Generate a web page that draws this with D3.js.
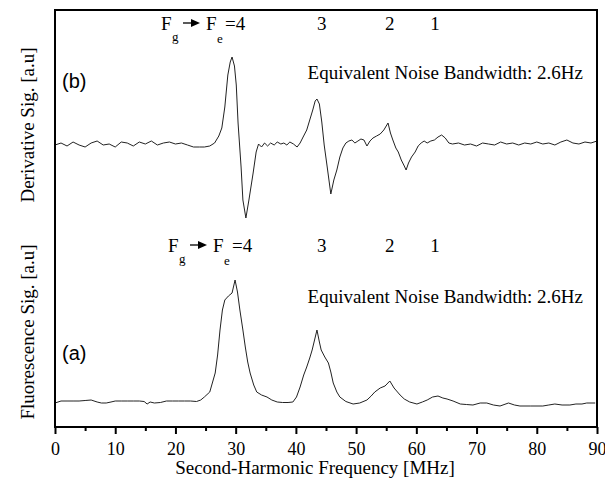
<!DOCTYPE html>
<html><head><meta charset="utf-8">
<script src="https://cdn.jsdelivr.net/npm/d3@7"></script>
<style>body{margin:0;background:#fff}</style>
</head><body><svg id="c" width="605" height="478"></svg>
<script>
// ---- data ----
const derivX=[0,1,2,3,4,5,6,7,8,9,10,11,12,13,14,15,16,17,18,19,20,21,22,23,24,24.8,25.7,26.5,27.2,27.7,28.2,28.7,29.1,29.4,29.8,30.1,30.4,30.9,31.2,31.7,32.2,32.9,33.4,33.8,34.3,34.8,35.3,35.8,36.4,36.9,37.5,38.0,38.5,39.0,39.6,40.2,40.7,41.2,41.8,42.3,42.8,43.2,43.5,43.9,44.3,44.7,45.2,45.8,46.3,46.8,47.3,47.8,48.3,48.8,49.3,49.8,50.3,50.8,51.3,51.8,52.3,52.8,53.4,54.0,54.6,55.0,55.3,55.7,56.1,56.6,57.0,57.5,58.0,58.3,58.7,59.2,59.8,60.3,60.8,61.3,61.8,62.4,63.0,63.6,64.2,64.8,65.4,66,67,68,69,70,71,72,73,74,75,76,77,78,79,80,81,82,83,84,85,86,87,88,89,90];
const derivY=[0,0.02,-0.01,0.03,0,-0.02,0.02,0.04,0,0.01,-0.02,0.03,0.02,-0.01,0.03,0.01,0.04,0,0.02,0.03,0.01,0.02,0,-0.02,-0.02,-0.02,-0.01,0.02,0.09,0.17,0.38,0.70,0.83,0.88,0.79,0.60,0.22,-0.22,-0.55,-0.73,-0.55,-0.28,-0.07,0.01,-0.02,0.02,-0.01,0.02,0,0.03,0.01,0.02,0,0.03,0.01,-0.02,0.02,0.08,0.15,0.25,0.35,0.44,0.46,0.41,0.23,0,-0.22,-0.49,-0.35,-0.25,-0.12,-0.03,0.02,0.04,0.05,0.02,0.04,0.06,0.05,-0.01,0.04,0.07,0.09,0.11,0.15,0.19,0.22,0.12,0.05,-0.03,-0.07,-0.15,-0.21,-0.25,-0.18,-0.12,-0.07,-0.01,0.02,0.04,0.02,0.04,0.05,0.08,0.10,0.07,0.02,0.01,0.02,0,0.01,-0.01,0.02,0.01,0,0.03,0.01,0.02,0,0.02,0.01,0.03,0.01,0.02,0,0.03,0.05,0.02,0.01,0.03,0.02,0.04];
const fluorX=[0,1,2,3,4,5,6,7,7.7,8.5,9.3,10,11,12,13,14,14.8,15.3,15.8,16.5,17.5,18.5,19.5,20.5,21.5,22.5,23.5,24.2,24.8,25.7,26.6,27.0,27.4,27.8,28.2,28.8,29.4,29.9,30.3,30.7,31.2,31.6,32.0,32.4,33.0,33.5,34.3,35.2,36.0,36.9,37.8,38.7,39.5,40.1,40.7,41.3,41.8,42.3,42.7,43.1,43.5,43.9,44.2,44.8,45.4,45.8,46.2,46.8,47.3,48.3,49.5,50.6,51.8,52.5,53.1,54.0,54.8,55.6,56.3,57.3,58.0,58.9,60.1,61.0,61.8,62.7,63.6,64.4,65.1,66.1,67.3,68.3,69.4,70.6,71.7,72.8,73.9,75.3,76.3,77.2,79,81,82,83,84.2,85.5,86.5,87.5,88.3,89.7];
const fluorY=[0.02,0.04,0.04,0.04,0.04,0.045,0.05,0.03,0.02,0.02,0.03,0.04,0.04,0.04,0.04,0.04,0.035,0.01,0.03,0.02,0.025,0.04,0.04,0.04,0.04,0.04,0.035,0.05,0.08,0.13,0.32,0.50,0.75,0.95,1.05,1.09,1.12,1.25,1.13,0.95,0.75,0.58,0.43,0.32,0.20,0.13,0.10,0.08,0.05,0.03,0.025,0.025,0.03,0.08,0.18,0.30,0.38,0.47,0.55,0.65,0.75,0.63,0.55,0.48,0.42,0.33,0.22,0.13,0.08,0.035,0.01,0.02,0.05,0.09,0.13,0.17,0.19,0.24,0.17,0.10,0.06,0.03,0.01,0.03,0.05,0.08,0.09,0.07,0.06,0.04,0.01,0.005,0,0.02,0.02,0,-0.01,0.02,0,-0.01,-0.01,-0.01,0,0.01,0,0,0.01,0.01,0.02,0.02];
const xMajorTicks=[0,10,20,30,40,50,60,70,80,90];
const xMinorTicks=[5,15,25,35,45,55,65,75,85];
const levelLabels=["3","2","1"];
const levelPos=[44.3,55.6,63.1];
const bandwidthText="Equivalent Noise Bandwidth: 2.6Hz";
const panelLabels=["(b)","(a)"];
const xTitle="Second-Harmonic Frequency [MHz]";
const yTitles=["Derivative Sig. [a.u]","Fluorescence Sig. [a.u]"];

// ---- drawing ----
const svg=d3.select("#c");
const serif="'Liberation Serif','Times New Roman',serif";
const sans="'Liberation Sans',Arial,sans-serif";
const L=55,R=597,T=10,B=427;
const x=d3.scaleLinear().domain([0,90]).range([L,R]);
const yB=d3.scaleLinear().domain([-1,1]).range([245,45]);
const yA=d3.scaleLinear().domain([0,1]).range([405,305]);

const line=(ys)=>d3.line().x(d=>x(d[0])).y(d=>ys(d[1]));
svg.append("path").datum(derivX.map((v,i)=>[v,derivY[i]]))
  .attr("d",line(yB)).attr("fill","none").attr("stroke","#222").attr("stroke-width",1);
svg.append("path").datum(fluorX.map((v,i)=>[v,fluorY[i]]))
  .attr("d",line(yA)).attr("fill","none").attr("stroke","#222").attr("stroke-width",1);

// axes
const gx=svg.append("g").attr("transform",`translate(0,${B})`)
  .call(d3.axisBottom(x).tickValues(xMajorTicks).tickSize(7).tickPadding(8).tickFormat(d3.format("d")));
gx.select(".domain").remove();
gx.selectAll("line").attr("stroke","#000").attr("stroke-width",2);
gx.selectAll("text").attr("font-family",serif).attr("font-size",18).attr("fill","#000");
const gm=svg.append("g").attr("transform",`translate(0,${B})`)
  .call(d3.axisBottom(x).tickValues(xMinorTicks).tickSize(4).tickFormat(""));
gm.select(".domain").remove();
gm.selectAll("line").attr("stroke","#000").attr("stroke-width",2);

svg.append("rect").attr("x",L).attr("y",T).attr("width",R-L).attr("height",B-T)
  .attr("fill","none").attr("stroke","#000").attr("stroke-width",2);

// titles
svg.append("text").attr("x",315).attr("y",474).attr("text-anchor","middle")
  .attr("font-family",serif).attr("font-size",19).text(xTitle);
[[125,yTitles[0]],[332,yTitles[1]]].forEach(([cy,t])=>{
  svg.append("text").attr("transform",`translate(34,${cy}) rotate(-90)`).attr("text-anchor","middle")
    .attr("font-family",serif).attr("font-size",19).text(t);
});

// panel annotations
function header(base,xF){
  const g=svg.append("g").attr("font-family",serif).attr("fill","#000");
  g.append("text").attr("x",xF).attr("y",base).attr("font-size",19).text("F");
  g.append("text").attr("x",xF+11).attr("y",base+11).attr("font-size",13).text("g");
  g.append("path").attr("d",`M${xF+22},${base-7}L${xF+32},${base-7}`).attr("stroke","#000").attr("stroke-width",1.3);
  g.append("path").attr("d",`M${xF+39},${base-7}L${xF+30},${base-11}L${xF+30},${base-3}Z`).attr("fill","#000");
  g.append("text").attr("x",xF+45).attr("y",base).attr("font-size",19).text("F");
  g.append("text").attr("x",xF+56).attr("y",base+13).attr("font-size",13).text("e");
  g.append("text").attr("x",xF+64).attr("y",base).attr("font-size",19).text("=4");
  levelLabels.forEach((t,i)=>g.append("text").attr("x",x(levelPos[i])).attr("y",base)
    .attr("text-anchor","middle").attr("font-size",19).text(t));
}
header(30,161);
header(252,168);
[[79,0],[303,1]].forEach(([b,i])=>{
  svg.append("text").attr("x",583).attr("y",b).attr("text-anchor","end")
    .attr("font-family",serif).attr("font-size",19).text(bandwidthText);
});
svg.append("text").attr("x",62).attr("y",88).attr("font-family",sans).attr("font-size",20).text(panelLabels[0]);
svg.append("text").attr("x",62).attr("y",360).attr("font-family",sans).attr("font-size",20).text(panelLabels[1]);
</script></body></html>
